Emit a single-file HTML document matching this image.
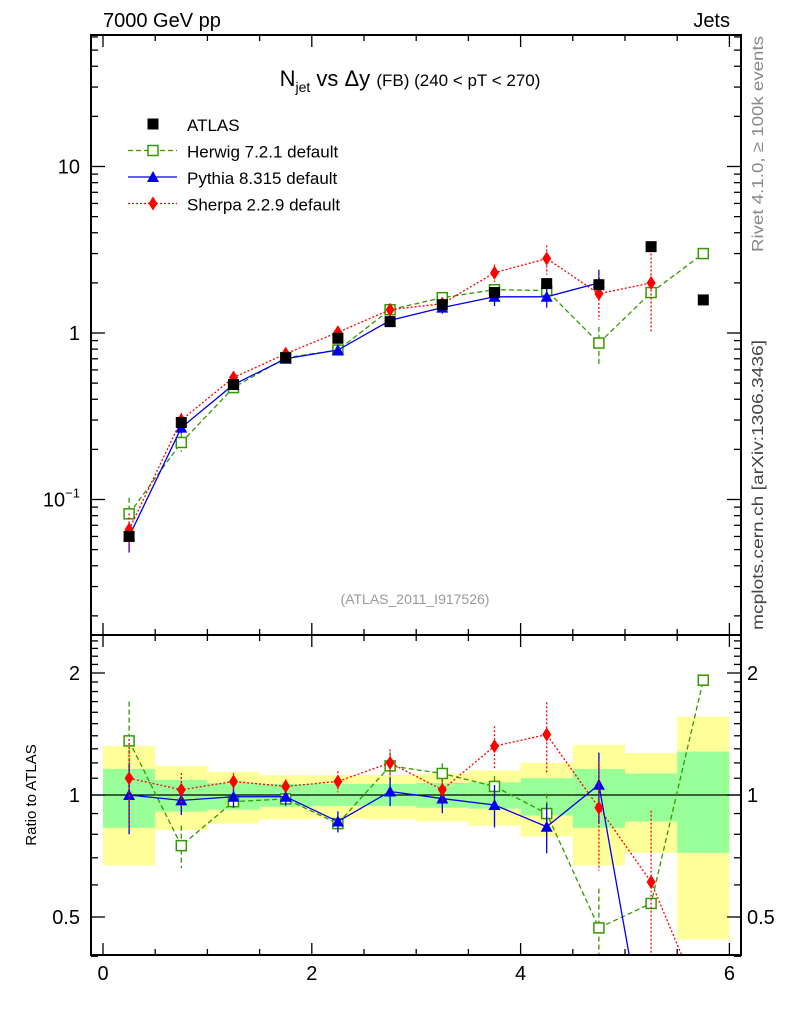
<!DOCTYPE html>
<html><head><meta charset="utf-8"><style>
html,body{margin:0;padding:0;background:#fff;overflow:hidden;width:786px;height:1024px;}
svg{display:block;font-family:"Liberation Sans",Arial,sans-serif;}
</style></head><body>
<svg id="c" width="786" height="1024" xmlns="http://www.w3.org/2000/svg">
<text x="103" y="27" font-size="20">7000 GeV pp</text>
<text x="730" y="27" font-size="20" text-anchor="end">Jets</text>
<text x="410" y="86" font-size="22" text-anchor="middle">N<tspan font-size="14" dy="6">jet</tspan><tspan dy="-6"> vs Δy </tspan><tspan font-size="17">(FB) (240 &lt; pT &lt; 270)</tspan></text>
<text x="415" y="604" font-size="14" fill="#999" text-anchor="middle">(ATLAS_2011_I917526)</text>
<text transform="translate(763,252) rotate(-90)" font-size="16" fill="#888" textLength="216" lengthAdjust="spacingAndGlyphs">Rivet 4.1.0, ≥ 100k events</text>
<text transform="translate(763,630) rotate(-90)" font-size="16" fill="#444" textLength="290" lengthAdjust="spacingAndGlyphs">mcplots.cern.ch [arXiv:1306.3436]</text>
<text transform="translate(36,795) rotate(-90)" font-size="15" text-anchor="middle">Ratio to ATLAS</text>
<g id="bands"></g><g id="plots"></g><g id="axes"></g><g id="legend"></g>
</svg>
<script>
const xCenters=[0.25,0.75,1.25,1.75,2.25,2.75,3.25,3.75,4.25,4.75,5.25,5.75];
const atlasVals=[0.06,0.29,0.49,0.71,0.93,1.17,1.48,1.75,1.98,1.95,3.3,1.58];
const herwigVals=[0.082,0.22,0.47,0.71,0.79,1.38,1.63,1.82,1.8,0.87,1.75,3.0];
const pythiaVals=[0.06,0.27,0.49,0.70,0.79,1.19,1.42,1.65,1.65,2.0];
const sherpaVals=[0.066,0.30,0.54,0.75,1.01,1.38,1.5,2.3,2.8,1.72,2.0];
const herwigRatio=[1.36,0.75,0.963,0.978,0.85,1.18,1.13,1.05,0.9,0.47,0.54,1.92];
const pythiaRatio=[1.0,0.97,0.99,0.99,0.86,1.02,0.98,0.945,0.835,1.06,0.2];
const sherpaRatio=[1.1,1.03,1.08,1.05,1.08,1.2,1.03,1.32,1.41,0.93,0.61,0.3];
const herwigErr=[0.25,0.12,0.04,0.03,0.04,0.08,0.06,0.06,0.12,0.25,0.0,0.0];
const pythiaErr=[0.2,0.08,0.06,0.05,0.06,0.08,0.08,0.12,0.14,0.2];
const sherpaErr=[0.25,0.1,0.05,0.04,0.06,0.08,0.06,0.12,0.2,0.3,0.5,0.0];
const yellowHi=[1.32,1.18,1.14,1.12,1.12,1.12,1.13,1.15,1.2,1.33,1.27,1.56];
const yellowLo=[0.67,0.82,0.85,0.87,0.875,0.87,0.86,0.84,0.79,0.67,0.72,0.44];
const greenHi=[1.16,1.09,1.07,1.065,1.065,1.065,1.07,1.075,1.1,1.16,1.13,1.28];
const greenLo=[0.83,0.91,0.92,0.935,0.94,0.94,0.93,0.925,0.89,0.83,0.86,0.72];
const xTicks=[0,2,4,6];

const NS="http://www.w3.org/2000/svg";
const L=91,R=741,T=35,MB=635,B=955;
const X=v=>103+v*104.4;
const Ym=v=>333-166.5*Math.log10(v);
const Yr=v=>795-122*Math.log2(v);
function mk(tag,attrs,parent){const e=document.createElementNS(NS,tag);for(const k in attrs)e.setAttribute(k,attrs[k]);parent.appendChild(e);return e;}
const svg=document.getElementById('c');
const bands=document.getElementById('bands'),plots=document.getElementById('plots'),axes=document.getElementById('axes'),legend=document.getElementById('legend');
const defs=mk('defs',{},svg);
const cpM=mk('clipPath',{id:'cm'},defs);mk('rect',{x:L,y:T,width:R-L,height:MB-T},cpM);
const cpR=mk('clipPath',{id:'cr'},defs);mk('rect',{x:L,y:MB,width:R-L,height:B-MB},cpR);
const gM=mk('g',{'clip-path':'url(#cm)'},plots);
const gR=mk('g',{'clip-path':'url(#cr)'},plots);
xCenters.forEach((c,i)=>{
  const y=mk('rect',{x:X(c-0.25),y:Yr(yellowHi[i]),width:104.4/2,height:Yr(yellowLo[i])-Yr(yellowHi[i]),fill:'#ffff99'},bands);
  
  
  const g=mk('rect',{x:X(c-0.25),y:Yr(greenHi[i]),width:104.4/2,height:Yr(greenLo[i])-Yr(greenHi[i]),fill:'#99ff99'},bands);
  
  
});
mk('line',{x1:L,x2:R,y1:Yr(1),y2:Yr(1),stroke:'#000','stroke-width':1.3},bands);
function marker(g,kind,x,y,col){
  let e;
  if(kind==='sq') e=mk('rect',{x:x-5.5,y:y-5.5,width:11,height:11,fill:'#000'},g);
  if(kind==='osq') e=mk('rect',{x:x-5,y:y-5,width:10,height:10,fill:'#fff',stroke:col,'stroke-width':1.5},g);
  if(kind==='tri') e=mk('polygon',{points:`${x},${y-6} ${x-6},${y+5} ${x+6},${y+5}`,fill:col},g);
  if(kind==='dia') e=mk('polygon',{points:`${x},${y-7} ${x-4.5},${y} ${x},${y+7} ${x+4.5},${y}`,fill:col},g);
  return e;
}
function series(g,vals,err,Y,col,dash,kind,name){
  const pts=vals.map((v,i)=>X(xCenters[i])+','+Y(v)).join(' ');
  const pl=mk('polyline',{points:pts,fill:'none',stroke:col,'stroke-width':1.3,'stroke-dasharray':dash},g);
  
  
  vals.forEach((v,i)=>{
    const e=err[i]||0;
    if(e>0){
      const x=X(xCenters[i]);
      const lo=Math.max(v*(1-e),0.01);
      const eb=mk('line',{x1:x,x2:x,y1:Y(v*(1+e)),y2:Y(lo),stroke:col,'stroke-width':1.3,'stroke-dasharray':dash},g);
      
      
    }
    const m=marker(g,kind,X(xCenters[i]),Y(v),col);
    
    
  });
}
series(gM,herwigVals,herwigErr,Ym,'#339900','5,3','osq','herwig');
series(gM,pythiaVals,pythiaErr,Ym,'#0000ee','','tri','pythia');
series(gM,sherpaVals,sherpaErr,Ym,'#ff0000','2,2','dia','sherpa');
atlasVals.forEach((v,i)=>{const m=marker(gM,'sq',X(xCenters[i]),Ym(v));
  
  });
series(gR,herwigRatio,herwigErr,Yr,'#339900','5,3','osq','herwig-ratio');
series(gR,pythiaRatio,pythiaErr,Yr,'#0000ee','','tri','pythia-ratio');
series(gR,sherpaRatio,sherpaErr,Yr,'#ff0000','2,2','dia','sherpa-ratio');
mk('rect',{x:L,y:T,width:R-L,height:MB-T,fill:'none',stroke:'#000','stroke-width':2},axes);
mk('rect',{x:L,y:MB,width:R-L,height:B-MB,fill:'none',stroke:'#000','stroke-width':2},axes);
for(let v=0;v<=6.01;v+=0.5){
  const x=X(v),len=(Math.abs(v-Math.round(v/2)*2)<0.01)?12:6;
  [[T,1],[MB,-1],[MB,1],[B,-1]].forEach(([y0,s])=>mk('line',{x1:x,x2:x,y1:y0,y2:y0+s*len,stroke:'#000','stroke-width':1.3},axes));
}
xTicks.forEach(v=>{const t=mk('text',{x:X(v),y:980,'font-size':20,'text-anchor':'middle'},axes);t.textContent=v;
  
  });
for(let d=-2;d<=1;d++)for(let m=1;m<10;m++){
  const v=m*Math.pow(10,d);if(v<0.0155||v>62)continue;
  const y=Ym(v),len=m===1?14:7;
  mk('line',{x1:L,x2:L+len,y1:y,y2:y,stroke:'#000','stroke-width':1.3},axes);
  mk('line',{x1:R,x2:R-len,y1:y,y2:y,stroke:'#000','stroke-width':1.3},axes);
}
[['10',10],['1',1]].forEach(([s,v])=>{const t=mk('text',{x:80,y:Ym(v)+7,'font-size':20,'text-anchor':'end'},axes);t.textContent=s;
  
  });
const t01=mk('text',{x:80,y:Ym(0.1)+7,'font-size':20,'text-anchor':'end'},axes);
t01.innerHTML='10<tspan font-size="13" dy="-9">−1</tspan>';


for(let v=0.4;v<=2.5;v+=0.1){
  const y=Yr(v),major=[0.5,1,2].some(q=>Math.abs(q-v)<0.01),len=major?14:7;
  mk('line',{x1:L,x2:L+len,y1:y,y2:y,stroke:'#000','stroke-width':1.3},axes);
  mk('line',{x1:R,x2:R-len,y1:y,y2:y,stroke:'#000','stroke-width':1.3},axes);
}
[['2',2],['1',1],['0.5',0.5]].forEach(([s,v])=>{
  const a=mk('text',{x:80,y:Yr(v)+7,'font-size':20,'text-anchor':'end'},axes);a.textContent=s;
  
  
  const b=mk('text',{x:747,y:Yr(v)+7,'font-size':20},axes);b.textContent=s;
  
  
});
const leg=[['ATLAS','sq','#000',''],['Herwig 7.2.1 default','osq','#339900','5,3'],['Pythia 8.315 default','tri','#0000ee',''],['Sherpa 2.2.9 default','dia','#ff0000','2,2']];
leg.forEach(([lab,k,col,dash],i)=>{
  const y=124+i*26.5;
  const g=mk('g',{},legend);
  
  
  if(k!=='sq')mk('line',{x1:128,x2:177,y1:y,y2:y,stroke:col,'stroke-width':1.3,'stroke-dasharray':dash},g);
  marker(g,k,153,y,col);
  const t=mk('text',{x:187,y:y+7,'font-size':17},g);t.textContent=lab;
});
</script>
</body></html>
